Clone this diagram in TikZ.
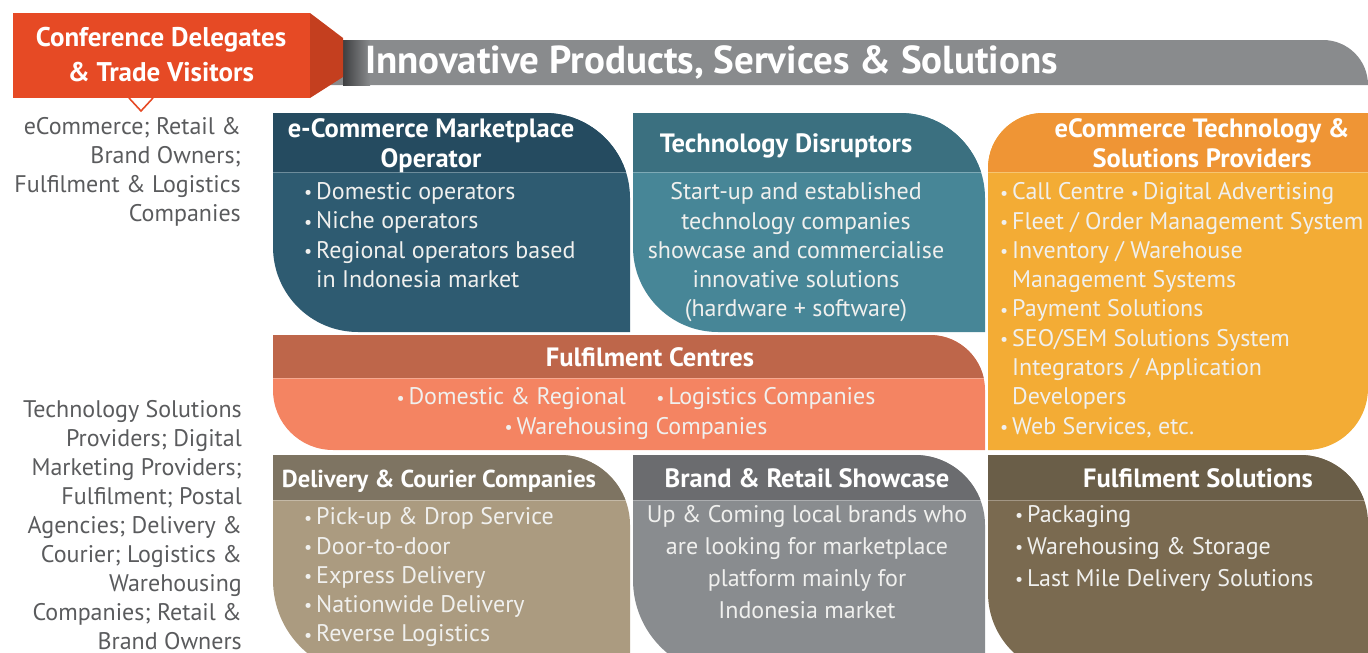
\documentclass[tikz,border=0pt]{standalone}
\usepackage{fontspec}
\setmainfont{PT Sans}
\usepackage{graphicx}
\definecolor{orangeA}{HTML}{E64A25}
\definecolor{orangeB}{HTML}{C43F1F}
\definecolor{bargray}{HTML}{898B8D}
\definecolor{shadowc}{HTML}{3E3F41}
\definecolor{sidegray}{HTML}{5A5B5D}
\definecolor{bodytxt}{HTML}{F0F0EE}
\definecolor{pAh}{HTML}{254B60}\definecolor{pAb}{HTML}{2E5B71}
\definecolor{pBh}{HTML}{3B7080}\definecolor{pBb}{HTML}{478697}
\definecolor{pCh}{HTML}{EF9535}\definecolor{pCb}{HTML}{F3AC35}
\definecolor{pDh}{HTML}{BE664A}\definecolor{pDb}{HTML}{F48462}
\definecolor{pEh}{HTML}{7E7462}\definecolor{pEb}{HTML}{AB9B80}
\definecolor{pFh}{HTML}{6B6C6F}\definecolor{pFb}{HTML}{898C8F}
\definecolor{pGh}{HTML}{6A5E48}\definecolor{pGb}{HTML}{7A6A50}
% shape path: x1,y1,x2,y2,rTL,rTR,rBR,rBL (y grows downward)
\newcommand\shp[8]{({#1+#5},#2) -- ({#3-#6},#2) .. controls +({0.5523*#6},0) and +(0,{-0.5523*#6}) .. (#3,{#2+#6})
 -- (#3,{#4-#7}) .. controls +(0,{0.5523*#7}) and +({0.5523*#7},0) .. ({#3-#7},#4)
 -- ({#1+#8},#4) .. controls +({-0.5523*#8},0) and +(0,{0.5523*#8}) .. (#1,{#4-#8})
 -- (#1,{#2+#5}) .. controls +(0,{-0.5523*#5}) and +({-0.5523*#5},0) .. ({#1+#5},#2) -- cycle}
% panel with top-right and bottom-left rounded
\newcommand\panelA[8]{%
  \fill[#1b] \shp{#2}{#3}{#4}{#5}{0}{#6}{0}{#7};
  \begin{scope}
  \clip \shp{#2}{#3}{#4}{#5}{0}{#6}{0}{#7};
  \fill[#1h] (#2,#3) rectangle (#4,#8);
  \draw[white, opacity=0.3, line width=0.8pt] (#2,#8) -- (#4,#8);
  \end{scope}}
% panel with top-left and bottom-right rounded
\newcommand\panelB[8]{%
  \fill[#1b] \shp{#2}{#3}{#4}{#5}{#6}{0}{#7}{0};
  \begin{scope}
  \clip \shp{#2}{#3}{#4}{#5}{#6}{0}{#7}{0};
  \fill[#1h] (#2,#3) rectangle (#4,#8);
  \draw[white, opacity=0.3, line width=0.8pt] (#2,#8) -- (#4,#8);
  \end{scope}}
\newcommand\bul{\makebox[12pt][l]{\raisebox{0.03em}{\scalebox{0.75}{\textbullet}}}}
\tikzset{
  hd/.style={font=\bfseries\fontsize{26.5}{30}\selectfont, text=white, inner sep=0pt},
  bd/.style={font=\fontsize{24}{29.3}\selectfont, text=bodytxt, inner sep=0pt},
  bdw/.style={font=\fontsize{24}{32}\selectfont, text=bodytxt, inner sep=0pt},
  side/.style={font=\fontsize{24}{29}\selectfont, text=sidegray, inner sep=0pt, align=right, anchor=north east},
}
\begin{document}
\begin{tikzpicture}[x=1pt,y=-1pt]
\useasboundingbox (0,0) rectangle (1368,653);
\clip (0,0) rectangle (1368,653);
% title bar
\fill[bargray] \shp{330}{40}{1368}{85}{0}{45}{0}{0};
\shade[left color=shadowc, right color=bargray] (343,40) rectangle (370,85);
\node[anchor=base west, font=\bfseries\fontsize{39}{42}\selectfont, text=white, inner sep=0pt] (title) at (365,73) {Innovative Products, Services \& Solutions};
% orange tag
\fill[orangeB] (310,13) -- (343,38) -- (343,77) -- (310,98) -- cycle;
\node[fill=orangeA, minimum width=297pt, minimum height=85pt, inner sep=0pt, anchor=north west] (conf) at (13,13) {};
\node[font=\bfseries\fontsize{27}{35}\selectfont, text=white, inner sep=0pt, align=center, anchor=north] (conftxt) at (161,27.5) {Conference Delegates\\\& Trade Visitors};
\draw[orangeA, line width=1.6pt] (129,98) -- (141,111) -- (153,98);
% side labels
\node[side] (aud1) at (241,117.5) {eCommerce; Retail \&\\Brand Owners;\\Fulfilment \& Logistics\\Companies};
\node[side] (aud2) at (242,400) {Technology Solutions\\Providers; Digital\\Marketing Providers;\\Fulfilment; Postal\\Agencies; Delivery \&\\Courier; Logistics \&\\Warehousing\\Companies; Retail \&\\Brand Owners};
% panels
\panelA{pA}{273}{113}{630}{332}{85}{85}{172}
\panelA{pB}{633}{113}{985}{332}{85}{85}{172}
\panelB{pC}{988}{113}{1368}{450}{55}{62}{172}
\panelA{pD}{273}{335}{985}{450}{55}{60}{378}
\panelA{pE}{273}{455}{630}{675}{70}{95}{500}
\panelA{pF}{633}{455}{985}{675}{70}{95}{500}
\panelA{pG}{988}{455}{1368}{675}{68}{82}{500}
% panel 1
\node[hd, anchor=north, align=center] (h1) at (431,118) {e-Commerce Marketplace\\Operator};
\node[bd, anchor=north west, align=left] (b1) at (304,182.5) {\bul Domestic operators\\\bul Niche operators\\\bul Regional operators based\\\hphantom{\bul}in Indonesia market};
% panel 2
\node[hd, anchor=base] (h2) at (786,152) {Technology Disruptors};
\node[bd, anchor=north, align=center] (b2) at (796,182.5) {Start-up and established\\technology companies\\showcase and commercialise\\innovative solutions\\(hardware + software)};
% panel 3
\node[hd, anchor=north, align=center] (h3) at (1202,118) {eCommerce Technology \&\\Solutions Providers};
\node[bd, anchor=north west, align=left] (b3) at (1000,182.5) {\bul Call Centre \bul Digital Advertising\\\bul Fleet / Order Management System\\\bul Inventory / Warehouse\\\hphantom{\bul}Management Systems\\\bul Payment Solutions\\\bul SEO/SEM Solutions System\\\hphantom{\bul}Integrators / Application\\\hphantom{\bul}Developers\\\bul Web Services, etc.};
% panel 4
\node[hd, anchor=base] (h4) at (650,366) {Fulfilment Centres};
\node[bd, anchor=north, align=center] (b4) at (636,387.5) {\bul Domestic \& Regional \quad\bul Logistics Companies\\\bul Warehousing Companies};
% panel 5
\node[hd, anchor=base, font=\bfseries\fontsize{24.5}{30}\selectfont] (h5) at (439,487) {Delivery \& Courier Companies};
\node[bd, anchor=north west, align=left] (b5) at (304,507.5) {\bul Pick-up \& Drop Service\\\bul Door-to-door\\\bul Express Delivery\\\bul Nationwide Delivery\\\bul Reverse Logistics};
% panel 6
\node[hd, anchor=base] (h6) at (807,487) {Brand \& Retail Showcase};
\node[bdw, anchor=north, align=center] (b6) at (807,505.5) {Up \& Coming local brands who\\are looking for marketplace\\platform mainly for\\Indonesia market};
% panel 7
\node[hd, anchor=base] (h7) at (1198,487) {Fulfilment Solutions};
\node[bdw, anchor=north west, align=left] (b7) at (1015,505.5) {\bul Packaging\\\bul Warehousing \& Storage\\\bul Last Mile Delivery Solutions};
\end{tikzpicture}
\end{document}
